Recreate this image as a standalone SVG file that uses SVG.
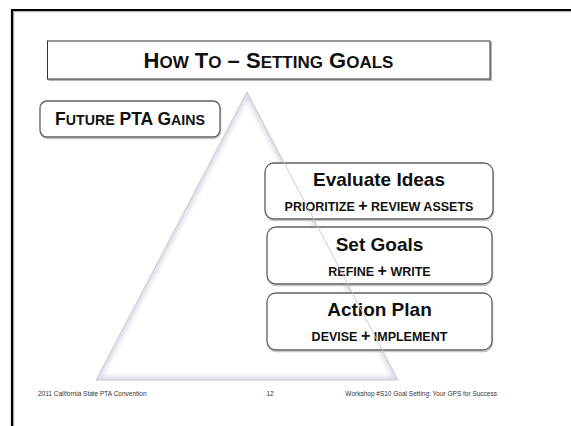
<svg xmlns="http://www.w3.org/2000/svg" width="571" height="426" viewBox="0 0 571 426">
<style>
.t{font-family:"Liberation Sans",Arial,sans-serif;font-weight:bold;fill:#111}
.sh{fill:none;stroke:#c8c8c8;stroke-width:1.5}
.h{font-size:19px;text-anchor:middle}
.s{font-size:12.5px;text-anchor:middle}
.p{font-size:16px}
.f{font-family:"Liberation Sans",Arial,sans-serif;font-size:6.5px;fill:#333}
</style>
<defs>
<clipPath id="triClip"><polygon points="247,92 398,380 96,380"/></clipPath>
<filter id="blur" x="-10%" y="-10%" width="120%" height="120%"><feGaussianBlur stdDeviation="2"/></filter>
</defs>
<rect width="571" height="426" fill="#fff"/>
<g id="frame">
<path d="M13.5,426 V11.5 H571" fill="none" stroke="#bbb" stroke-width="1.5"/>
<path d="M12,426 V10 H571" fill="none" stroke="#000" stroke-width="2.2"/>
</g>
<g id="title">
<path d="M48.5,80 H491 V42" fill="none" stroke="#999" stroke-width="1.5"/>
<rect x="47.5" y="41" width="442.5" height="38" fill="#fff" stroke="#333" stroke-width="1"/>
<text class="t" x="268.5" y="68" text-anchor="middle" font-size="22px">H<tspan font-size="17px">OW</tspan> T<tspan font-size="17px">O</tspan> – S<tspan font-size="17px">ETTING</tspan> G<tspan font-size="17px">OALS</tspan></text>
</g>
<g id="future">
<rect x="40.5" y="102.5" width="180" height="36" rx="7" class="sh"/>
<rect x="40" y="101" width="180" height="36" rx="7" fill="#fff" stroke="#606060" stroke-width="1.3"/>
<text class="t" x="130" y="125" text-anchor="middle" font-size="17.5px">F<tspan font-size="14.2px">UTURE</tspan> PTA G<tspan font-size="14.2px">AINS</tspan></text>
</g>
<g id="triangle">
<polygon points="247,92 398,380 96,380" fill="#fff"/>
<g clip-path="url(#triClip)">
<polygon points="247,92 398,380 96,380" fill="none" stroke="#dcdce6" stroke-width="7" filter="url(#blur)"/>
<line x1="90" y1="382" x2="404" y2="382" stroke="#d6d6dc" stroke-width="5" filter="url(#blur)"/>
</g>
</g>
<g id="evaluate">
<rect x="265.5" y="164.5" width="228" height="56" rx="9" class="sh"/>
<rect x="265" y="163" width="228" height="56" rx="9" fill="#fff" stroke="#606060" stroke-width="1.3"/>
<text class="t h" x="379" y="186">Evaluate Ideas</text>
<text class="t s" x="379" y="211">PRIORITIZE <tspan class="p">+</tspan> REVIEW ASSETS</text>
</g>
<g id="setgoals">
<rect x="267.5" y="228.5" width="225" height="57" rx="9" class="sh"/>
<rect x="267" y="227" width="225" height="57" rx="9" fill="#fff" stroke="#606060" stroke-width="1.3"/>
<text class="t h" x="379.5" y="251">Set Goals</text>
<text class="t s" x="379.5" y="276">REFINE <tspan class="p">+</tspan> WRITE</text>
</g>
<g id="actionplan">
<rect x="267.5" y="294.5" width="225" height="57" rx="9" class="sh"/>
<rect x="267" y="293" width="225" height="57" rx="9" fill="#fff" stroke="#606060" stroke-width="1.3"/>
<text class="t h" x="379.5" y="316">Action Plan</text>
<text class="t s" x="379.5" y="341">DEVISE <tspan class="p">+</tspan> IMPLEMENT</text>
</g>
<g id="connectors">
<polygon points="247,92 398,380 96,380" fill="none" stroke="#c4c4cc" stroke-width="0.9"/>
</g>
<g id="footer">
<text class="f" x="38" y="395.5">2011 California State PTA Convention</text>
<text class="f" x="270" y="395.5" text-anchor="middle">12</text>
<text class="f" x="497" y="395.5" text-anchor="end">Workshop #S10 Goal Setting: Your GPS for Success</text>
</g>
</svg>
